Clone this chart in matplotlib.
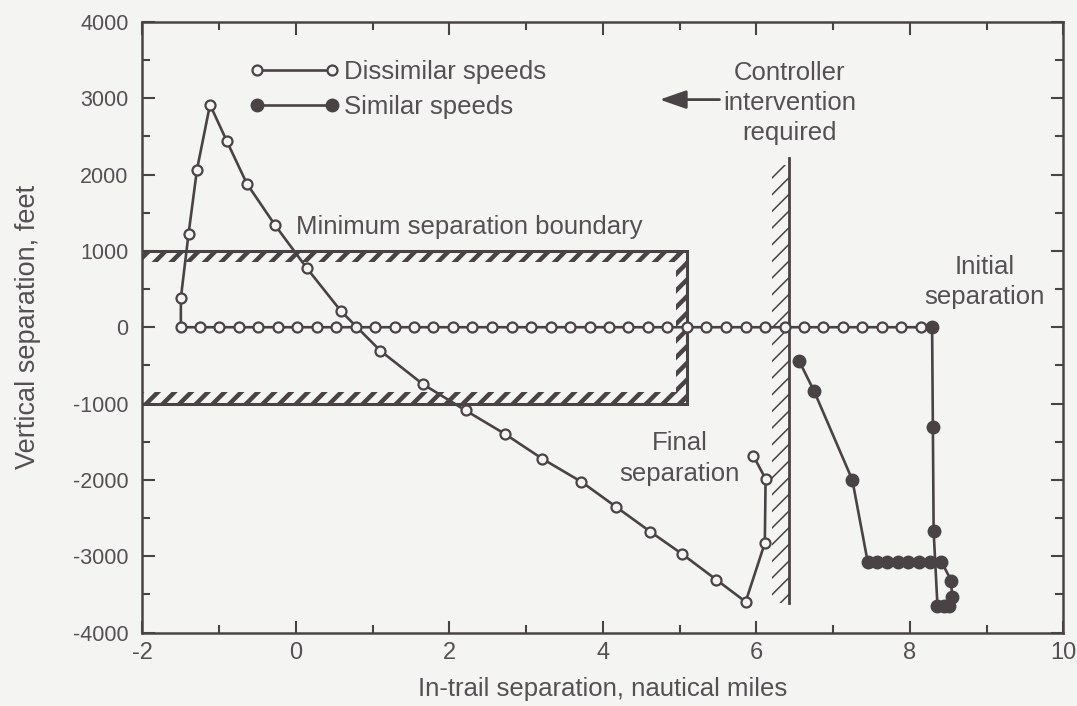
import matplotlib
matplotlib.use("Agg")
import matplotlib.pyplot as plt
from matplotlib.patches import Rectangle
from matplotlib.ticker import MultipleLocator

# ---------------- data ----------------
# Dissimilar speeds: starts at initial separation, runs left along 0 ft,
# then climbs and descends to the final separation
dis_x = [8.14, 7.89, 7.64, 7.38, 7.13, 6.87, 6.62, 6.37, 6.11, 5.86,
         5.60, 5.35, 5.10, 4.84, 4.59, 4.33, 4.08, 3.83, 3.57, 3.32,
         3.06, 2.81, 2.56, 2.30, 2.05, 1.79, 1.54, 1.29, 1.03, 0.78,
         0.52, 0.27, 0.02, -0.24, -0.49, -0.74, -1.00, -1.25, -1.50,
         -1.50, -1.40, -1.29, -1.12, -0.90, -0.64, -0.27, 0.14, 0.59,
         1.10, 1.65, 2.21, 2.72, 3.21, 3.72, 4.17, 4.62, 5.03, 5.48,
         5.86, 6.11, 6.12, 5.96]
dis_y = [0, 0, 0, 0, 0, 0, 0, 0, 0, 0,
         0, 0, 0, 0, 0, 0, 0, 0, 0, 0,
         0, 0, 0, 0, 0, 0, 0, 0, 0, 0,
         0, 0, 0, 0, 0, 0, 0, 0, 0,
         383, 1221, 2064, 2916, 2435, 1881, 1334, 776, 207,
         -308, -743, -1090, -1396, -1723, -2025, -2352, -2680, -2969, -3309,
         -3597, -2828, -1986, -1684]

# Similar speeds
sim_x = [8.29, 8.30, 8.31, 8.36, 8.44, 8.51, 8.55, 8.54, 8.41, 8.26,
         8.12, 7.98, 7.84, 7.70, 7.57, 7.45, 7.25, 6.75, 6.56]
sim_y = [0, -1309, -2675, -3650, -3650, -3650, -3540, -3320, -3069, -3069,
         -3069, -3069, -3069, -3069, -3069, -3069, -1999, -832, -448]

# boundaries
min_sep_right = 5.10          # nmi, end of minimum separation box
min_sep_alt = 1000            # ft
controller_x = 6.42           # nmi
controller_y = (-3610, 2220)  # ft extent of the line

x_ticks = [-2, 0, 2, 4, 6, 8, 10]
y_ticks = [-4000, -3000, -2000, -1000, 0, 1000, 2000, 3000, 4000]

# ---------------- style ----------------
INK = "#4a4345"
TXT = "#555052"
BG = "#f4f4f3"
plt.rcParams["font.family"] = ["Liberation Sans", "DejaVu Sans"]

fig = plt.figure(figsize=(10.77, 7.06), dpi=100, facecolor=BG)
ax = fig.add_axes([0.1323, 0.104, 0.855, 0.865], facecolor=BG)
ax.set_xlim(-2, 10)
ax.set_ylim(-4000, 4000)

for sp in ax.spines.values():
    sp.set_color(INK)
    sp.set_linewidth(1.8)

ax.set_xticks(x_ticks)
ax.set_yticks(y_ticks)
ax.xaxis.set_minor_locator(MultipleLocator(1))
ax.yaxis.set_minor_locator(MultipleLocator(500))
ax.tick_params(which="both", direction="in", top=True, right=True,
               color=INK, width=1.5)
ax.tick_params(which="major", length=9, labelcolor=TXT)
ax.tick_params(which="minor", length=6)
ax.tick_params(axis="x", which="major", labelsize=17, pad=7)
ax.tick_params(axis="y", which="major", labelsize=15.5, pad=10)
ax.set_xticklabels([str(v) for v in x_ticks])
ax.set_yticklabels([str(v) for v in y_ticks])

ax.set_xlabel("In-trail separation, nautical miles", fontsize=18.5,
              color=TXT, labelpad=9)
ax.set_ylabel("Vertical separation, feet", fontsize=19.5, color=TXT,
              labelpad=23)

# ---------------- minimum separation boundary ----------------
band_h = 150   # ft
band_w = 0.15  # nmi


def hatch_rect(xy, w, h, lw, hatch):
    plt.rcParams["hatch.linewidth"] = lw
    r = Rectangle(xy, w, h, facecolor="none", edgecolor=INK, linewidth=0,
                  hatch=hatch, zorder=2)
    if hasattr(r, "set_hatch_linewidth"):
        r.set_hatch_linewidth(lw)
    ax.add_patch(r)
    return r


hatch_rect((-2, min_sep_alt - band_h), min_sep_right + 2, band_h, 3.2, "//")
hatch_rect((-2, -min_sep_alt), min_sep_right + 2, band_h, 3.2, "//")
hatch_rect((min_sep_right - band_w, -min_sep_alt), band_w, 2 * min_sep_alt,
           3.2, "//")
ax.plot([-2, min_sep_right, min_sep_right, -2],
        [min_sep_alt, min_sep_alt, -min_sep_alt, -min_sep_alt],
        color=INK, lw=2.2, zorder=3, solid_joinstyle="miter")

# ---------------- controller intervention boundary ----------------
hatch_rect((controller_x - 0.21, controller_y[0]), 0.21,
           2130 - controller_y[0], 1.1, "//")
ax.plot([controller_x, controller_x], list(controller_y), color=INK, lw=2.0,
        zorder=3)

# ---------------- data series ----------------
ax.plot(dis_x, dis_y, color=INK, lw=1.9, marker="o", ms=7.2,
        mfc=BG, mec=INK, mew=1.6, zorder=5, label="Dissimilar speeds")
ax.plot(sim_x, sim_y, color=INK, lw=1.9, marker="o", ms=9,
        mfc=INK, mec=INK, zorder=6, label="Similar speeds")

leg = ax.legend(loc="upper left", bbox_to_anchor=(0.116, 0.938),
                frameon=False, numpoints=2, handlelength=3.5,
                handletextpad=0.2, labelspacing=0.43, borderpad=0,
                borderaxespad=0, fontsize=18.5)
for t in leg.get_texts():
    t.set_color(TXT)

# ---------------- annotations ----------------
kw = dict(fontsize=18.5, color=TXT, ha="center", va="center",
          linespacing=1.32)
ax.text(2.26, 1317, "Minimum separation boundary", **kw)
ax.text(6.43, 2940, "Controller\nintervention\nrequired", **kw)
ax.text(5.0, -1720, "Final\nseparation", **kw)
ax.text(8.97, 590, "Initial\nseparation", **kw)
ax.annotate("", xy=(4.74, 2982), xytext=(5.52, 2982),
            arrowprops=dict(arrowstyle="-|>,head_length=1.15,head_width=0.4",
                            mutation_scale=14, color=INK, lw=2.0,
                            shrinkA=0, shrinkB=0))

fig.savefig("out.png", dpi=100, facecolor=BG)
